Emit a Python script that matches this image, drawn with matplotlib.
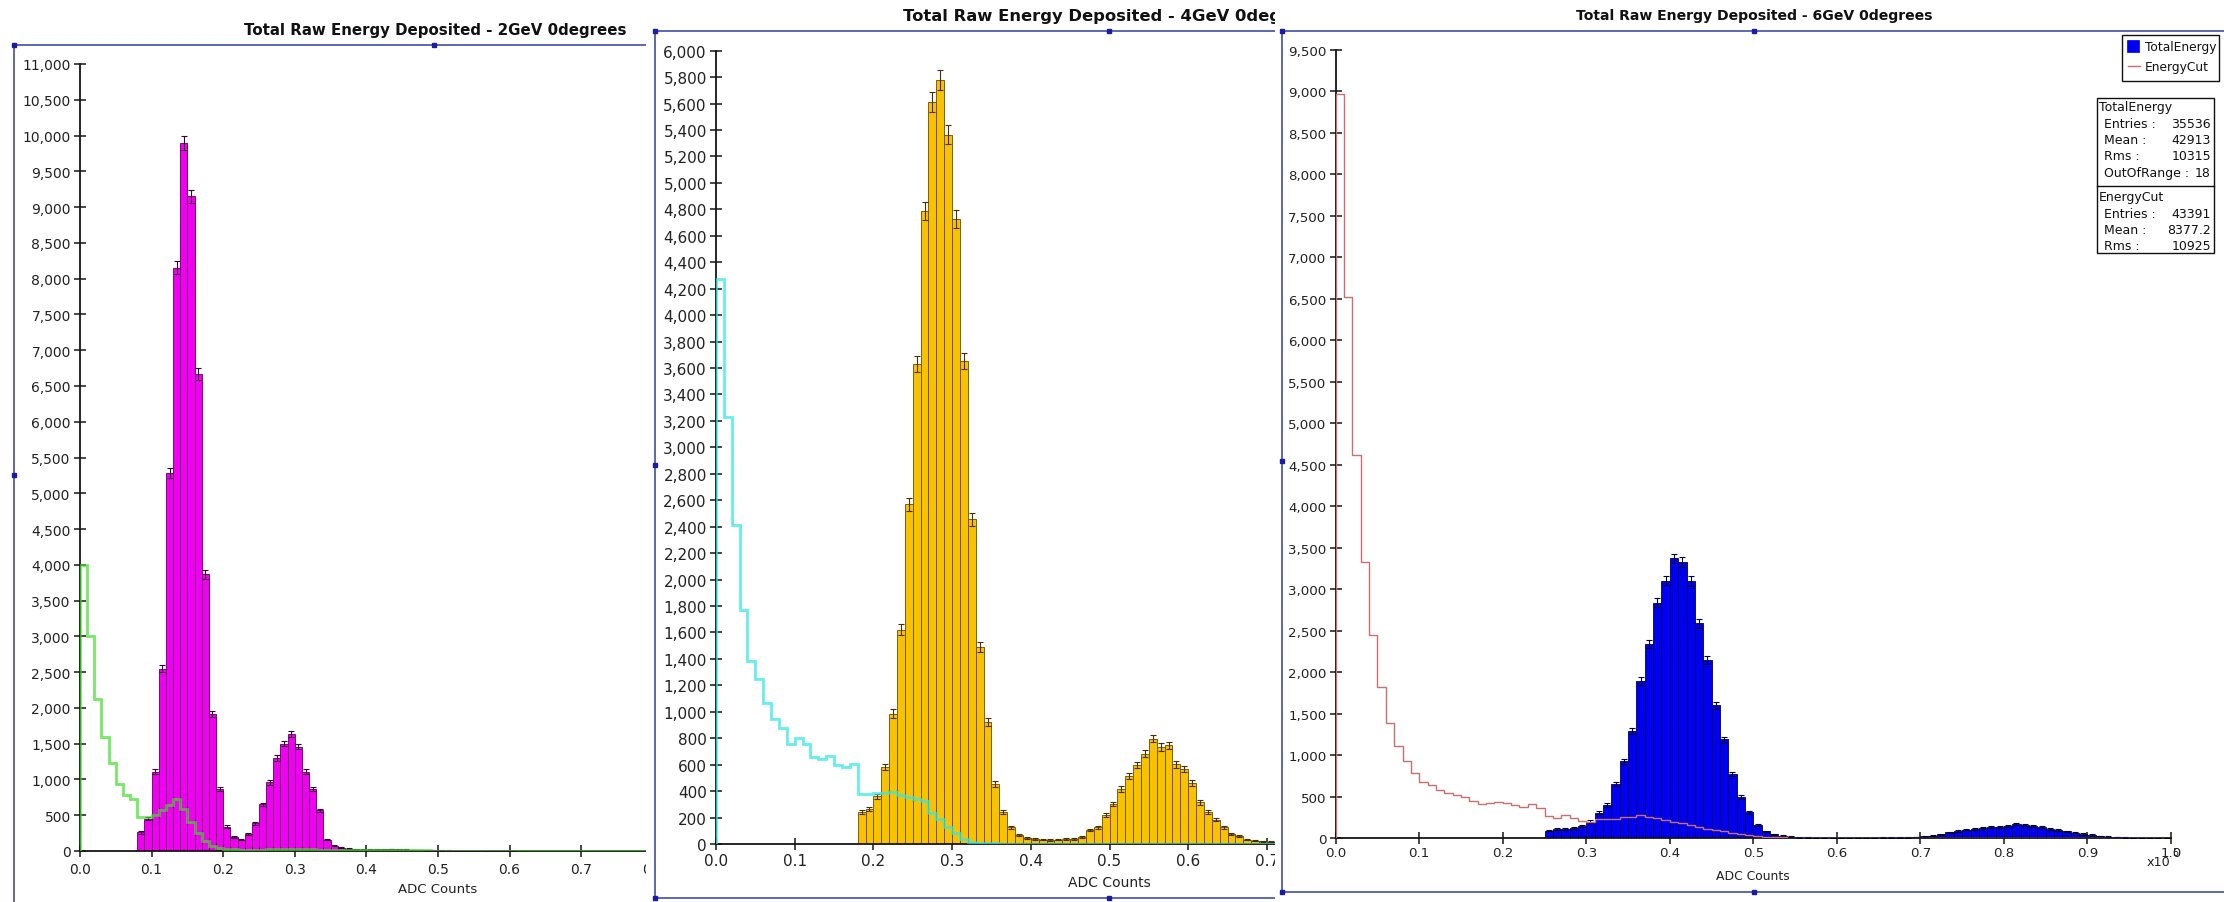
import numpy as np
import matplotlib
matplotlib.use("Agg")
import matplotlib.pyplot as plt
from matplotlib.patches import Rectangle
from matplotlib.ticker import MultipleLocator, StrMethodFormatter

# ---------------------------------------------------------------- data
BIN = 0.01
EDGES = np.round(np.arange(0.0, 1.0 + BIN / 2, BIN), 2)   # 100 bins, 0 .. 1.0 (x1e5 ADC counts)

# 2 GeV run
total_2gev_start = 0.08
total_2gev = [260, 450, 1110, 2550, 5280, 8150, 9900, 9150, 6670, 3870,
              1910, 870, 340, 190, 160, 240, 390, 650, 960, 1300,
              1500, 1630, 1460, 1110, 870, 570, 160, 75, 45, 30,
              25, 20, 20, 22, 25, 28, 25, 20, 15, 12,
              10, 8, 6, 5, 4, 3, 3, 2, 2, 2, 1, 1, 1]
cut_2gev = [4000, 3000, 2120, 1600, 1230, 940, 780, 720, 470, 470,
            505, 575, 645, 728, 590, 405, 245, 140, 72, 42,
            30, 25, 20, 18, 18, 20, 22, 25, 28, 30,
            28, 25, 22, 18, 15, 12, 10, 10, 10, 12,
            14, 16, 18, 20, 18, 15, 12, 10, 8, 6,
            5, 4, 4, 3, 3, 3, 2, 2, 2, 2,
            2, 2, 2, 2, 1, 1, 1, 1, 1, 1,
            1, 1, 1, 1, 1, 1, 1, 1, 1, 1,
            1, 1, 1, 1, 1, 1, 1, 1, 1, 1,
            1, 1, 1, 1, 1, 1, 1, 1, 1, 1]

# 4 GeV run
total_4gev_start = 0.18
total_4gev = [245, 262, 362, 581, 987, 1620, 2570, 3630, 4785, 5615,
              5780, 5364, 4730, 3650, 2456, 1490, 924, 453, 245, 125,
              70, 45, 36, 33, 32, 33, 36, 40, 52, 105,
              125, 218, 304, 416, 512, 596, 684, 797, 734, 747,
              603, 565, 461, 316, 240, 185, 127, 76, 58, 33,
              25, 20, 18, 15, 12, 10, 8, 6, 5, 4,
              3, 3, 2, 2, 2, 1, 1, 1, 1, 1]
cut_4gev = [4272, 3233, 2413, 1767, 1385, 1251, 1063, 944, 878, 754,
            800, 754, 660, 640, 665, 595, 580, 605, 378, 378,
            382, 385, 392, 370, 355, 338, 322, 235, 190, 130,
            80, 38, 18, 8, 5, 4, 3, 3, 3, 3,
            3, 3, 3, 3, 3, 3, 3, 3, 3, 3,
            2, 2, 2, 2, 2, 2, 2, 2, 2, 2,
            2, 2, 2, 2, 2, 1, 1, 1, 1, 1,
            1, 1, 1, 1, 1, 1, 1, 1, 1, 1,
            1, 1, 1, 1, 1, 1, 1, 1, 1, 1,
            1, 1, 1, 1, 1, 1, 1, 1, 1, 1]

# 6 GeV run
total_6gev_start = 0.25
total_6gev = [93, 113, 113, 121, 153, 201, 306, 403, 656, 926,
              1292, 1896, 2339, 2838, 3104, 3374, 3333, 3100, 2589, 2146,
              1602, 1192, 777, 495, 314, 161, 82, 50, 32, 20,
              12, 8, 6, 5, 5, 5, 5, 5, 6, 6,
              7, 9, 11, 13, 16, 22, 32, 48, 70, 90,
              105, 113, 127, 133, 140, 152, 172, 163, 148, 132,
              116, 100, 84, 68, 52, 40, 28, 20, 15, 9,
              6, 5, 3, 2, 2]
cut_6gev = [8965, 6520, 4620, 3325, 2456, 1824, 1393, 1107, 934, 785,
            676, 644, 584, 543, 523, 495, 455, 415, 427, 435,
            427, 407, 374, 415, 366, 266, 242, 282, 242, 213,
            200, 230, 232, 238, 254, 262, 282, 262, 240, 220,
            200, 180, 160, 140, 118, 98, 82, 66, 50, 36,
            26, 18, 13, 10, 8, 6, 5, 5, 4, 4,
            4, 3, 3, 3, 3, 3, 3, 3, 3, 4,
            4, 4, 4, 5, 5, 5, 5, 5, 5, 5,
            5, 5, 4, 4, 4, 3, 3, 3, 2, 2,
            2, 2, 2, 1, 1, 1, 1, 1, 1, 1]

series_names = ["TotalEnergy", "EnergyCut"]
stats_total = [("Entries :", "35536"), ("Mean :", "42913"), ("Rms :", "10315"),
               ("OutOfRange :", "18")]
stats_cut = [("Entries :", "43391"), ("Mean :", "8377.2"), ("Rms :", "10925")]

titles = ["Total Raw Energy Deposited - 2GeV 0degrees",
          "Total Raw Energy Deposited - 4GeV 0degrees",
          "Total Raw Energy Deposited - 6GeV 0degrees"]

# ---------------------------------------------------------------- layout helpers
W, H = 2224, 903
fig = plt.figure(figsize=(W / 100, H / 100), dpi=100)
fig.patch.set_facecolor("white")

FRAME = "#2f3f9c"
HANDLE = "#1b1ba8"
AXIS = "#151515"


def frac_rect(x0, y0, x1, y1):
    """pixel box (origin top-left) -> figure fraction rect"""
    return [x0 / W, 1 - y1 / H, (x1 - x0) / W, (y1 - y0) / H]


def make_sheet(left, z):
    ax = fig.add_axes(frac_rect(left, 0, W, H), zorder=z)
    ax.set_xlim(left, W)
    ax.set_ylim(H, 0)
    ax.set_xticks([])
    ax.set_yticks([])
    for s in ax.spines.values():
        s.set_visible(False)
    ax.set_facecolor("white")
    return ax


def draw_frame(sheet, x0, x1, ytop, ybot, draw_bottom=True):
    kw = dict(color=FRAME, lw=1.1, clip_on=False, solid_capstyle="butt")
    sheet.plot([x0, x1], [ytop, ytop], **kw)
    sheet.plot([x0, x0], [ytop, ybot], **kw)
    xm = (x0 + x1) / 2
    hx = [x0, xm, x0]
    hy = [ytop, ytop, (ytop + ybot) / 2]
    if draw_bottom:
        sheet.plot([x0, x1], [ybot, ybot], **kw)
        hx += [x0, xm]
        hy += [ybot, ybot]
    sheet.plot(hx, hy, "s", ms=3.4, color=HANDLE, clip_on=False)


def make_plot(x0, ytop, ybot, px_per_unit, xmax, z, ymax, ystep, fs, xpad):
    """data axes whose x origin sits at pixel x0; px_per_unit pixels per 1.0 on x"""
    ax = fig.add_axes(frac_rect(x0, ytop, x0 + xmax * px_per_unit, ybot), zorder=z)
    ax.set_facecolor("none")
    ax.set_xlim(0, xmax)
    ax.set_ylim(0, ymax)
    for side in ("top", "right"):
        ax.spines[side].set_visible(False)
    for side in ("left", "bottom"):
        ax.spines[side].set_color(AXIS)
        ax.spines[side].set_linewidth(1.3)
    ax.xaxis.set_major_locator(MultipleLocator(0.1))
    ax.yaxis.set_major_locator(MultipleLocator(ystep))
    ax.xaxis.set_major_formatter(StrMethodFormatter("{x:.1f}"))
    ax.yaxis.set_major_formatter(StrMethodFormatter("{x:,.0f}"))
    ax.tick_params(axis="both", direction="inout", length=8.5, width=1.1,
                   color=AXIS, labelcolor="#222222", labelsize=fs)
    ax.tick_params(axis="y", pad=2.4)
    ax.tick_params(axis="x", pad=xpad)
    return ax


def hist_bars(ax, start, values, face, edge, ecolor):
    vals = np.asarray(values, dtype=float)
    left = np.round(start + BIN * np.arange(len(vals)), 2)
    ax.bar(left, vals, width=BIN, align="edge", color=face, edgecolor=edge,
           linewidth=0.6, zorder=2)
    ax.errorbar(left + BIN / 2, vals, yerr=np.sqrt(vals), fmt="none",
                ecolor=ecolor, elinewidth=0.8, capsize=2.2, capthick=0.8, zorder=2.6)


def hist_line(ax, values, color, lw, alpha):
    ax.stairs(np.asarray(values, dtype=float), EDGES, baseline=0, fill=False,
              color=color, lw=lw, alpha=alpha, zorder=3)


# ---------------------------------------------------------------- panel 1 : 2 GeV
s1 = make_sheet(0, 1)
draw_frame(s1, 13.5, 853.5, 45.7, 906, draw_bottom=False)
s1.text(435, 30, titles[0], fontsize=10.8, fontweight="bold", ha="center", va="center",
        color="#111111")
a1 = make_plot(80, 65, 852, 716, 0.8, 1.5, 11000, 500, 10, 3.5)
hist_bars(a1, total_2gev_start, total_2gev, "#f000f0", "#5c005c", "#3a003a")
hist_line(a1, cut_2gev, "#3be024", 2.0, 0.7)
s1.text(438, 890, "ADC Counts", fontsize=9.5, ha="center", va="center", color="#222222")

# ---------------------------------------------------------------- panel 2 : 4 GeV
s2 = make_sheet(646, 2)
draw_frame(s2, 654.5, 1562.5, 32.3, 899)
s2.text(1112, 16, titles[1], fontsize=11.8, fontweight="bold", ha="center", va="center",
        color="#111111")
a2 = make_plot(716, 51.7, 845, 787, 0.74, 2.5, 6000, 200, 11, 2.0)
hist_bars(a2, total_4gev_start, total_4gev, "#f8c200", "#6b4800", "#4a3000")
hist_line(a2, cut_4gev, "#33e8e8", 2.0, 0.75)
s2.text(1109.5, 883, "ADC Counts", fontsize=10, ha="center", va="center", color="#222222")

# ---------------------------------------------------------------- panel 3 : 6 GeV
s3 = make_sheet(1275, 3)
draw_frame(s3, 1282, 2225, 31.7, 893)
s3.text(1754, 16, titles[2], fontsize=10.1, fontweight="bold", ha="center", va="center",
        color="#111111")
a3 = make_plot(1335.7, 51, 839.3, 835.3, 1.0, 3.5, 9500, 500, 9.6, 1.6)
hist_bars(a3, total_6gev_start, total_6gev, "#0000f0", "#00005a", "#000030")
hist_line(a3, cut_6gev, "#c87070", 1.0, 1.0)
s3.text(1753, 877, "ADC Counts", fontsize=8.9, ha="center", va="center", color="#222222")
# axis multiplier
s3.text(2147, 863, "x10", fontsize=9.2, ha="left", va="center", color="#222222")
s3.text(2172, 853, "5", fontsize=7, ha="left", va="center", color="#222222")

# legend box
s3.add_patch(Rectangle((2121.7, 36), 97.3, 46, facecolor="white", edgecolor="#111111",
                       lw=1.0, zorder=4))
s3.add_patch(Rectangle((2127, 41), 12, 12, facecolor="#0000f0", edgecolor="#0000f0",
                       lw=0.5, zorder=5))
s3.plot([2128, 2140], [67, 67], color="#c87070", lw=1.0, zorder=5)
s3.text(2145, 47, series_names[0], fontsize=8.8, ha="left", va="center", zorder=6,
        color="#111111")
s3.text(2145, 67, series_names[1], fontsize=8.8, ha="left", va="center", zorder=6,
        color="#111111")

# statistics box
s3.add_patch(Rectangle((2097, 99), 117, 155, facecolor="white", edgecolor="#111111",
                       lw=1.0, zorder=4))
s3.plot([2097, 2214], [187, 187], color="#111111", lw=1.0, zorder=5)
y = 108
for header, rows in ((series_names[0], stats_total), (series_names[1], stats_cut)):
    s3.text(2099, y, header, fontsize=9, ha="left", va="center", zorder=6, color="#111111")
    y += 16.3
    for name, val in rows:
        s3.text(2104, y, name, fontsize=9, ha="left", va="center", zorder=6, color="#111111")
        s3.text(2211, y, val, fontsize=9, ha="right", va="center", zorder=6, color="#111111")
        y += 16.3
    y = 198

fig.savefig("out.png", dpi=100, facecolor="white")
